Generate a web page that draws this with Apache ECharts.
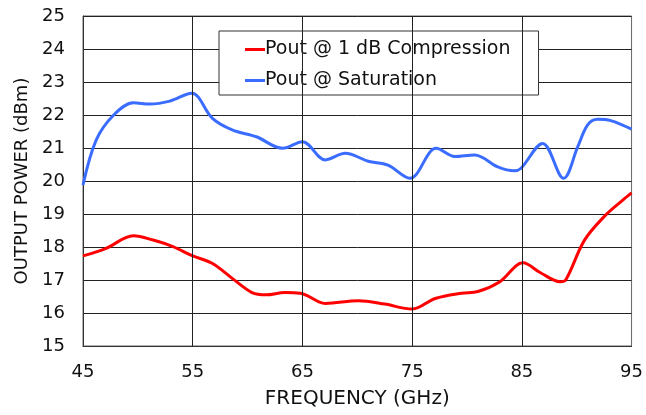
<!DOCTYPE html>
<html>
<head>
<meta charset="utf-8">
<script src="https://cdn.jsdelivr.net/npm/echarts@6/dist/echarts.min.js"></script>
<style>
  html, body { margin: 0; padding: 0; background: #fff; }
  #chart { width: 646px; height: 415px; }
</style>
</head>
<body>
<div id="chart"></div>
<script>
// frequency (GHz) / output power (dBm)
const compFreq = [45, 47.1, 49.6, 51.4, 53.2, 55, 56.8, 58.6, 60.4, 61.7, 63.4, 64.8, 66.5, 67.1, 70.1, 72.5, 75, 77.1, 79.5, 81, 83, 85.1, 86.7, 88.5, 89, 90.7, 92.5, 94.2, 95];
const compPower = [17.73, 17.96, 18.34, 18.21, 18.01, 17.73, 17.5, 17.05, 16.62, 16.55, 16.62, 16.6, 16.34, 16.29, 16.37, 16.27, 16.12, 16.44, 16.6, 16.65, 16.95, 17.52, 17.22, 16.95, 17.0, 18.2, 18.92, 19.42, 19.64];

const satFreq = [45, 46.2, 47.8, 49.6, 51.1, 52.9, 54.9, 56.8, 58.6, 60.8, 63.2, 65, 67.1, 68.9, 71, 72.8, 74.8, 77.2, 78.9, 80.7, 82.8, 84.3, 84.9, 86.9, 88.8, 90.1, 91, 91.9, 93.1, 95];
const satPower = [19.88, 21.24, 22.0, 22.37, 22.33, 22.42, 22.66, 21.9, 21.55, 21.34, 20.99, 21.19, 20.64, 20.84, 20.6, 20.48, 20.08, 20.99, 20.74, 20.79, 20.43, 20.31, 20.38, 21.14, 20.08, 21.04, 21.7, 21.87, 21.83, 21.57];

const xTicks = [45, 55, 65, 75, 85, 95];
const innerGrid = [55, 65, 75, 85];

const seriesNames = ['Pout @ 1 dB Compression', 'Pout @ Saturation'];
const seriesColors = ['#ff0000', '#3a6cff'];

const pair = (xs, ys) => xs.map((x, i) => [x, ys[i]]);

const chart = echarts.init(document.getElementById('chart'));
const font = '"DejaVu Sans", sans-serif';

chart.setOption({
    animation: false,
    textStyle: { fontFamily: font, color: '#111' },
    grid: {
        left: 83, right: 12, top: 16, bottom: 69,
        show: true, borderColor: '#666', borderWidth: 1
    },
    legend: {
        orient: 'vertical',
        left: 219,
        top: 31,
        padding: [7, 28, 3, 26],
        itemGap: 8,
        itemWidth: 20,
        itemHeight: 3,
        icon: 'rect',
        backgroundColor: '#fff',
        borderColor: '#333',
        borderWidth: 1,
        textStyle: { fontFamily: font, fontSize: 19, lineHeight: 23, color: '#111', padding: [0, 0, 0, -5] },
        data: seriesNames
    },
    xAxis: {
        type: 'value',
        min: 45,
        max: 95,
        interval: 5,
        name: 'FREQUENCY (GHz)',
        nameLocation: 'middle',
        nameGap: 43,
        nameTextStyle: { fontFamily: font, fontSize: 20, color: '#111' },
        axisLine: { show: true, lineStyle: { color: '#333', width: 1 } },
        axisTick: { show: false },
        splitLine: { show: false },
        axisLabel: {
            fontFamily: font, fontSize: 18, color: '#111', margin: 17,
            formatter: v => (xTicks.indexOf(v) >= 0 ? String(v) : '')
        }
    },
    yAxis: {
        type: 'value',
        min: 15,
        max: 25,
        interval: 1,
        name: 'OUTPUT POWER (dBm)',
        nameLocation: 'middle',
        nameGap: 52,
        nameTextStyle: { fontFamily: font, fontSize: 18, color: '#111' },
        axisLine: { show: true, lineStyle: { color: '#333', width: 1 } },
        axisTick: { show: false },
        splitLine: { show: true, lineStyle: { color: '#222', width: 1 } },
        axisLabel: { fontFamily: font, fontSize: 18, color: '#111', margin: 18 }
    },
    series: [
        {
            name: seriesNames[0],
            type: 'line',
            data: pair(compFreq, compPower),
            smooth: 0.35,
            symbol: 'none',
            z: 3,
            lineStyle: { color: seriesColors[0], width: 3 },
            itemStyle: { color: seriesColors[0] },
            markLine: {
                silent: true,
                symbol: 'none',
                label: { show: false },
                lineStyle: { color: '#222', width: 1, type: 'solid' },
                data: innerGrid.map(v => ({ xAxis: v }))
            }
        },
        {
            name: seriesNames[1],
            type: 'line',
            data: pair(satFreq, satPower),
            smooth: 0.35,
            symbol: 'none',
            z: 3,
            lineStyle: { color: seriesColors[1], width: 3 },
            itemStyle: { color: seriesColors[1] }
        }
    ]
});
</script>
</body>
</html>
